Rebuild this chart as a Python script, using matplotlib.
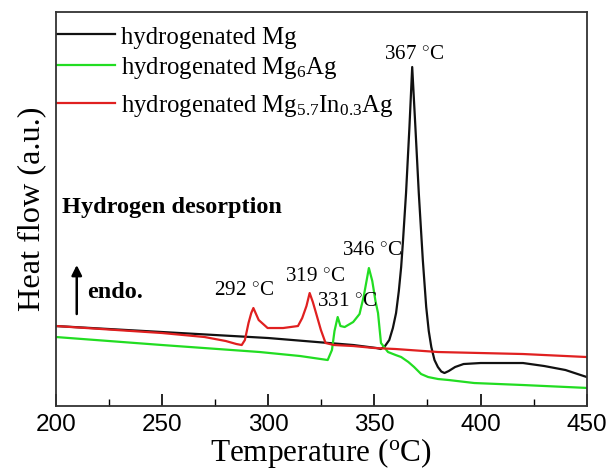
import matplotlib
matplotlib.use("Agg")
import matplotlib.pyplot as plt
from matplotlib.lines import Line2D
from matplotlib.ticker import MultipleLocator

plt.rcParams['font.family'] = ['Liberation Serif', 'DejaVu Serif']
plt.rcParams['mathtext.fontset'] = 'custom'
plt.rcParams['mathtext.rm'] = 'Liberation Serif'
plt.rcParams['mathtext.it'] = 'Liberation Serif:italic'
plt.rcParams['mathtext.bf'] = 'Liberation Serif:bold'

# hydrogenated Mg
mg_T = [200, 250, 300, 340, 351, 353, 355, 357, 358.7, 360.2, 361.5, 362.6,
        363.4, 364.9, 366.5, 367.8, 369.3, 370.9, 372.8, 374.4, 375.6, 376.8,
        378.3, 379.9, 381.5, 383, 385, 388, 392, 400, 420, 430, 440, 450]
mg_y = [80, 74, 68, 61, 58, 57, 60, 66, 78, 93, 115, 139,
        163, 213, 279, 339, 279, 213, 146, 99, 75, 59,
        46, 39, 34.5, 33, 35, 39, 42, 43, 43, 40, 36, 29]

# hydrogenated Mg6Ag
mg6_T = [200, 250, 296, 315, 328, 330, 331.2, 332.7, 334, 336, 340,
         343, 345, 347.4, 349, 350.5, 351.7, 353.1, 356.4, 360, 362.6, 366,
         368.7, 372, 375.3, 380, 385, 397, 420, 451]
mg6_y = [69, 61, 54, 50, 46, 56, 75, 89, 80, 79, 84,
         92, 110, 138, 125, 105, 93, 63, 54, 51, 49, 44,
         39, 32, 29, 27, 26, 23, 21, 18]

# hydrogenated Mg5.7In0.3Ag
mgin_T = [200, 250, 270, 280, 285, 287.5, 289, 290.7, 292, 293, 295.5, 299.7,
          307, 314, 316, 318, 319.5, 321, 322.5, 324.8, 327, 331, 340, 350,
          360, 380, 400, 420, 450]
mgin_y = [80, 73, 69, 65, 62, 61, 66, 83, 93, 98, 86, 78,
          78, 80, 88, 100, 113, 104, 93, 76, 63, 61, 60, 58,
          57, 54, 53, 52, 49]

labels = ["hydrogenated Mg", "hydrogenated Mg$_6$Ag",
          "hydrogenated Mg$_{5.7}$In$_{0.3}$Ag"]
colors = ["#111111", "#22dd22", "#e02020"]

peak_T = [367, 346, 319, 292, 331]
peak_text = ["367 $^{\\circ}$C", "346 $^{\\circ}$C", "319 $^{\\circ}$C",
             "292 $^{\\circ}$C", "331 $^{\\circ}$C"]
peak_pos = [(368.7, 352), (348.9, 156), (321.9, 130), (288.4, 116), (337, 105)]

fig = plt.figure(figsize=(6.08, 4.73), dpi=100)
ax = fig.add_axes([0.092, 0.1416, 0.873, 0.833])

lines = []
for T, y, c in zip([mg_T, mg6_T, mgin_T], [mg_y, mg6_y, mgin_y], colors):
    ln, = ax.plot(T, y, color=c, lw=1.6)
    lines.append(ln)

ax.set_xlim(200, 450)
ax.set_ylim(0, 394)
ax.set_yticks([])
ax.xaxis.set_major_locator(MultipleLocator(50))
ax.xaxis.set_minor_locator(MultipleLocator(25))
ax.tick_params(axis='x', which='major', direction='in', length=9, width=1.2,
               top=False, labelsize=17.5, pad=6)
ax.tick_params(axis='x', which='minor', direction='in', length=5, width=1.0,
               top=False)
for lab in ax.get_xticklabels():
    lab.set_family('Liberation Sans')
for s in ax.spines.values():
    s.set_linewidth(1.3)
    s.set_color('#333333')

ax.set_xlabel("Temperature ($^{\\mathrm{o}}$C)", fontsize=22.5, labelpad=0)
ax.set_ylabel("Heat flow (a.u.)", fontsize=23.2, labelpad=7)

# legend drawn as handles + texts (layout in axes fraction)
leg_y = [0.944, 0.8655, 0.769]
for ln, lab, yy in zip(lines, labels, leg_y):
    ax.add_line(Line2D([0.002, 0.111], [yy, yy], transform=ax.transAxes,
                       color=ln.get_color(), lw=1.6))
    ax.text(0.1225, yy - 0.024, lab, transform=ax.transAxes, fontsize=17.8,
            ha='left', va='baseline')

for (tx, ty), t in zip(peak_pos, peak_text):
    ax.text(tx, ty, t, fontsize=15.2, ha='center', va='center')

ax.text(202.8, 199, "Hydrogen desorption", fontsize=17.5, fontweight='bold',
        ha='left', va='center')
ax.text(214.5, 114, "endo.", fontsize=17.5, fontweight='bold',
        ha='left', va='center')
ax.annotate("", xy=(209.8, 141), xytext=(209.8, 92),
            arrowprops=dict(arrowstyle='-|>', color='black', lw=1.8,
                            mutation_scale=15, shrinkA=0, shrinkB=0))

fig.savefig("out.png", dpi=100)
